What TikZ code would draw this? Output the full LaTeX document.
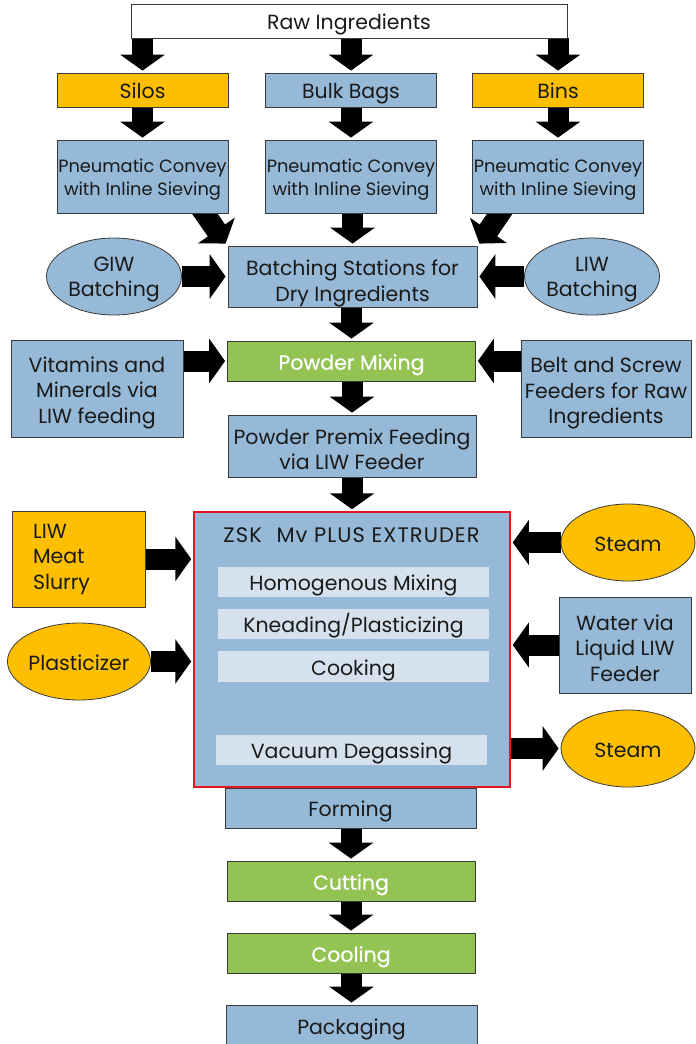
\documentclass[tikz,border=0pt]{standalone}
\usepackage{fontspec}
\setmainfont{Poppins}
\usetikzlibrary{arrows.meta,shapes.geometric,calc}
\definecolor{bl}{HTML}{95B9D6}
\definecolor{og}{HTML}{FDBF00}
\definecolor{gr}{HTML}{92C353}
\definecolor{lt}{HTML}{D5E2EE}
\definecolor{rd}{HTML}{E3161E}
\definecolor{bd}{HTML}{3A3A3A}
\definecolor{tx}{HTML}{1A1A1A}
\newcommand\myup[1]{\rule{0pt}{#1pt}}
\pgfdeclarelayer{bg}
\pgfdeclarelayer{arr}
\pgfsetlayers{bg,arr,main}
\begin{document}
\begin{tikzpicture}[x=1pt,y=-1pt,
 base/.style={inner sep=0pt, align=center, text=tx, font=\fontsize{20.5}{25.5}\selectfont},
 rbox/.style={base, draw=bd, line width=0.8pt, rectangle},
 bluebox/.style={rbox, fill=bl},
 orbox/.style={rbox, fill=og},
 grbox/.style={rbox, fill=gr, text=white, font=\fontsize{20.5}{25.5}\selectfont\addfontfeature{FakeBold=0.6}},
 oval/.style={base, ellipse, draw=bd, line width=0.8pt},
 inbox/.style={base, fill=lt},
 small/.style={font=\fontsize{17.8}{23}\selectfont},
 wh/.style 2 args={minimum width=#1pt, minimum height=#2pt},
 one/.style={execute at begin node={\rule[-5.5pt]{0pt}{28.5pt}}},
 blk/.style={line width=21pt, draw=black, -{Triangle[length=16pt,width=44pt]}, shorten >=2pt}
]
\useasboundingbox (0,0) rectangle (696,1044);
\begin{pgfonlayer}{bg}
\fill[white] (0,0) rectangle (696,1044);
\end{pgfonlayer}

% top
\node[rbox, one, fill=white, wh={436}{34}] (raw) at (349,21) {Raw Ingredients};
\node[orbox, one, wh={171}{34}] (silos) at (142.5,90) {Silos};
\node[bluebox, one, wh={171}{34}] (bulk) at (351,90) {Bulk Bags};
\node[orbox, one, wh={171}{34}] (bins) at (558,90) {Bins};
\node[bluebox, small, wh={171}{73}] (pn1) at (142.5,176.5) {\myup{20}Pneumatic Convey\\with Inline Sieving};
\node[bluebox, small, wh={171}{73}] (pn2) at (351,176.5) {\myup{20}Pneumatic Convey\\with Inline Sieving};
\node[bluebox, small, wh={171}{73}] (pn3) at (558,176.5) {\myup{20}Pneumatic Convey\\with Inline Sieving};

% batching
\node[bluebox, wh={249}{61}] (batch) at (352.5,276.5) {\myup{30}Batching Stations for\\Dry Ingredients};
\node[oval, fill=bl, wh={135}{77}] (giw) at (114,276.5) {\myup{21}GIW\\Batching};
\node[oval, fill=bl, wh={135}{77}] (liw) at (592,276.5) {\myup{21}LIW\\Batching};

% mixing
\node[grbox, one, wh={248}{40}] (mix) at (351.5,361) {Powder Mixing};
\node[bluebox, wh={172}{97}] (vit) at (97,388.5) {\myup{24}Vitamins and\\Minerals via\\LIW feeding};
\node[bluebox, wh={170}{97}] (belt) at (606,388.5) {\myup{25}Belt and Screw\\Feeders for Raw\\Ingredients};
\node[bluebox, wh={248}{62}] (premix) at (352,446) {\myup{22}Powder Premix Feeding\\via LIW Feeder};

% extruder
\node[rbox, fill=bl, draw=rd, line width=1.5pt, wh={316}{275}] (ext) at (352,649.5) {};
\node[base, one, font=\fontsize{21}{25}\selectfont\addfontfeature{LetterSpace=5}] (title) at (351.5,533.5) {ZSK\hspace{0.7em}Mv PLUS EXTRUDER};
\node[inbox, one, wh={271}{30}] (homog) at (353.5,582) {Homogenous Mixing};
\node[inbox, one, wh={271}{30}] (knead) at (353.5,624) {Kneading/Plasticizing};
\node[inbox, one, wh={271}{31}] (cook) at (353.5,666.5) {Cooking};
\node[inbox, one, wh={271}{30}] (vac) at (351.5,750) {Vacuum Degassing};

\node[orbox, wh={133}{96}, text width=91pt, align=left] (meat) at (78.5,559) {LIW\\Meat\\Slurry};
\node[oval, one, fill=og, wh={134}{77}] (plast) at (79,661.5) {Plasticizer};
\node[oval, one, fill=og, wh={134}{77}] (steam1) at (628,542.5) {Steam};
\node[bluebox, wh={132}{96}] (water) at (625,645) {\myup{22}Water via\\Liquid LIW\\Feeder};
\node[oval, one, fill=og, wh={134}{77}] (steam2) at (628,748.5) {Steam};

% bottom
\node[bluebox, one, wh={251}{40}] (forming) at (350.5,808) {Forming};
\node[grbox, one, wh={248}{40}] (cutting) at (351,881) {Cutting};
\node[grbox, one, wh={248}{40}] (cooling) at (351,953) {Cooling};
\node[bluebox, one, wh={251}{42}] (pack) at (351.5,1026) {Packaging};

% arrows
\begin{pgfonlayer}{arr}
\draw[blk] (raw.south -| silos.north) -- (silos.north);
\draw[blk] (raw.south -| bulk.north) -- (bulk.north);
\draw[blk] (raw.south -| bins.north) -- (bins.north);
\draw[blk] (silos) -- (pn1.north);
\draw[blk] (bulk) -- (pn2.north);
\draw[blk] (bins) -- (pn3.north);
\coordinate (d1s) at ($(pn1.south east)+(-28,-6)$);
\coordinate (d1e) at ($(batch.north west)+(-2,-2)$);
\coordinate (d3s) at ($(pn3.south west)+(32,-6)$);
\coordinate (d3e) at ($(batch.north east)+(2,-2)$);
\draw[blk, shorten >=0pt] (d1s) -- (d1e);
\draw[blk, shorten >=0pt] (d3s) -- (d3e);
\draw[blk] (pn2.south -| batch.north) -- (batch.north);
\draw[blk] (giw.east) -- (batch.west);
\draw[blk] (liw.west) -- (batch.east);
\draw[blk] (batch.south -| mix.north) -- (mix.north);
\draw[blk] (mix.west -| vit.east) -- (mix.west);
\draw[blk] (mix.east -| belt.west) -- (mix.east);
\draw[blk] (mix.south -| premix.north) -- (premix.north);
\draw[blk] (premix.south -| ext.north) -- (ext.north);
\draw[blk] (meat.east) -- (meat.east -| ext.west);
\draw[blk] (plast.east) -- (plast.east -| ext.west);
\draw[blk] (steam1.west) -- (steam1.west -| ext.east);
\draw[blk] (water.west) -- (water.west -| ext.east);
\draw[blk] (steam2.west -| ext.east) -- (steam2.west);
\draw[blk] (forming.south -| cutting.north) -- (cutting.north);
\draw[blk] (cutting) -- (cooling);
\draw[blk] (cooling.south -| pack.north) -- (pack.north);
\end{pgfonlayer}
\end{tikzpicture}
\end{document}
